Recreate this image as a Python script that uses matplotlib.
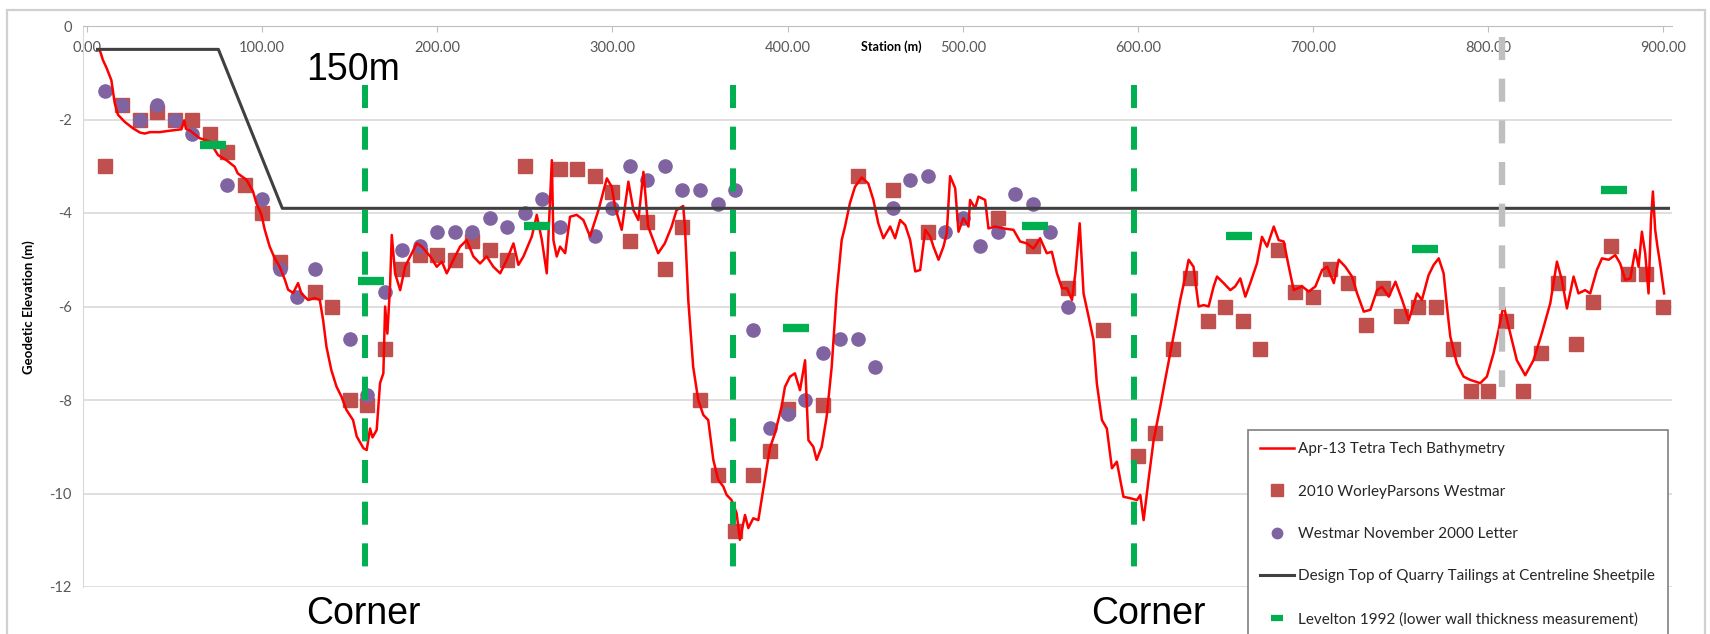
import numpy as np
import matplotlib
matplotlib.use("Agg")
import matplotlib.pyplot as plt
from matplotlib.lines import Line2D
from matplotlib.patches import Rectangle
from matplotlib.ticker import FormatStrFormatter, MultipleLocator

plt.rcParams['axes.unicode_minus'] = False
plt.rcParams['lines.scale_dashes'] = False
plt.rcParams['font.family'] = ['Lato', 'DejaVu Sans']

#------ Apr-13 Tetra Tech bathymetry (station m, elevation m) ------#
bathy_st = [7.4, 9.1, 11.2, 13.9, 15.8, 17.7, 21.5, 26.3, 30.3, 33, 36, 41.5, 47.2, 53.9, 55.5, 56.5,
            58.6, 64.3, 70, 74.8, 79.6, 84.3, 86, 91, 94.8, 96.7, 99.6, 101.5, 104.3, 107.2, 110, 113,
            114.8, 117.7, 120.5, 122.4, 126.2, 130, 132.9, 134.8, 136.7, 139.5, 142.4, 145.3, 148.1, 151.9,
            154, 157.8, 159.7, 161.6, 163, 165.4, 167.3, 169.2, 170.2, 171.5, 173, 174, 175.9, 178.8,
            181.6, 184.5, 188.3, 191.2, 196, 199.7, 202.6, 205.4, 209.2, 213, 216.8, 220.6, 224.4, 228.2,
            232, 235.9, 239.7, 243.5, 246.3, 249.2, 254, 256.8, 259.7, 262.5, 265.4, 266.3, 268.2, 270.1,
            273, 275.8, 279.6, 283.4, 287.2, 292, 296.8, 299.6,
            301.5, 305.3, 309.1, 312, 314.8, 317.7, 320.4, 323.3, 326.1, 329.9, 333.8, 336.6, 340.4, 341.4,
            343.3, 346.1, 349, 351.9, 354.7, 357.6, 360.4, 363.3, 365.2, 368, 370.9, 372.8, 375.7, 377.6,
            380.4, 383.3, 386.1, 389.9, 392.8, 396.6, 398.5, 401.4, 404.2, 407.1, 410, 410.9, 411.9, 414.7,
            416.6, 419.5, 422.3, 425.2, 428, 430.9, 432.8, 435.6, 438.5, 442.3, 446.1, 449, 451.8,
            454.7, 458.6, 461.4, 464.3, 467.2, 470, 472.9, 475.7, 478.6, 481.5, 483.3, 486.2, 489, 490.9,
            492.8, 495.7, 497.6, 500.4, 503.3, 504.2, 507.1, 509, 512.8, 514.7, 518.5, 523.3, 529, 532.8,
            536.6, 540.4, 544.2, 548, 550.9, 553.8, 556.7, 559.5, 562.4, 564.3, 566.8, 569, 571.9, 574.7,
            576.6, 579.5, 582.3, 585.2, 588, 591.8, 595.6, 599.5, 601.4, 603.3,
            606.1, 609, 612.8, 615.6, 618.5, 621.4, 624.2, 627.1, 629, 631.8, 634.7, 637.6, 640.4, 643.3,
            645.2, 649, 652.8, 655.6, 658.5, 661.4, 664.2, 668, 670.9, 673.8, 677.6, 680.4, 683.3, 686.2,
            689, 693.8, 697.6, 701.4, 705.2, 708.1, 711.9, 714.7, 718.5, 722.3, 725.2, 729, 732.8, 736.6,
            739.4, 743.3, 747.1, 750.9, 754.7,
            759.4, 762.2, 766, 768.9, 771.8, 774.6, 776.5, 778.4, 782.2, 786, 789.8, 795.5, 799.3, 803.1,
            806, 808.8, 811.7, 816.4, 821.2, 825.9, 830.7, 835.5, 839.3, 842.1, 845, 848.8, 851.6, 855.4,
            858.3, 862.1, 865, 868.8, 872.6, 875.4, 878.3, 881.2, 884, 885.9, 887.8, 889.7, 891.6, 893,
            894.1, 895.4, 896.7, 898.2, 900.5]
bathy_el = [-0.53, -0.73, -0.9, -1.16, -1.65, -1.9, -2.05, -2.19, -2.28, -2.3, -2.27, -2.27, -2.24, -2.21, -2.02, -2.2,
            -2.23, -2.4, -2.47, -2.76, -2.87, -3.01, -3.15, -3.29, -3.54, -3.79, -4.04, -4.36, -4.72, -4.97, -5.15, -5.43,
            -5.64, -5.71, -5.5, -5.72, -5.86, -5.82, -5.86, -6.29, -6.86, -7.36, -7.71, -7.93, -8.21, -8.43,
            -8.78, -9.03, -9.07, -8.61, -8.8, -8.64, -7.64, -7.43, -6.0, -6.58, -5.58, -4.47, -5.29, -5.65,
            -5.15, -4.93, -4.65, -4.72, -4.93, -5.15, -5.04, -5.29, -5.0, -4.72, -4.58, -4.93, -5.08, -4.93,
            -5.15, -5.29, -5.0, -4.65, -5.11, -4.93, -4.5, -4.04, -4.58, -5.29, -2.87, -4.58, -4.93, -4.72,
            -4.86, -4.08, -4.04, -4.15, -4.5, -3.94, -3.26, -3.44,
            -3.87, -4.36, -3.33, -3.94, -4.15, -3.12, -4.29, -4.58, -4.86, -4.65, -4.29, -3.94, -3.85, -4.29,
            -5.86, -7.29, -8.0, -8.32, -8.43, -9.28, -9.71, -9.85, -10.03, -10.14, -10.42, -10.99, -10.46, -10.74,
            -10.53, -10.57, -9.92, -9.03, -8.71, -8.14, -7.72, -7.5, -7.43, -7.79, -7.15, -8.0, -8.86, -9.0,
            -9.28, -9.0, -8.36, -7.29, -5.72, -4.58, -4.29, -3.79, -3.44, -3.24, -3.37, -3.72, -4.22,
            -4.54, -4.29, -4.54, -4.15, -4.26, -4.58, -5.25, -5.22, -4.36, -4.51, -4.72, -5.0, -4.72, -4.43,
            -3.21, -3.47, -4.4, -4.11, -4.29, -3.72, -3.9, -3.65, -3.72, -4.33, -4.29, -4.33, -4.36, -4.61,
            -4.65, -4.76, -4.54, -4.86, -4.83, -5.29, -5.61, -5.61, -5.86, -5.29, -4.22, -5.72, -6.22, -6.72,
            -7.65, -8.43, -8.61, -9.46, -9.32, -10.07, -10.1, -10.14, -10.03, -10.57,
            -9.71, -8.86, -8.14, -7.57, -7.0, -6.43, -5.86, -5.36, -5.0, -5.15, -6.0, -5.97, -6.0, -5.57,
            -5.36, -5.5, -5.65, -5.57, -5.4, -5.79, -5.5, -5.08, -4.51, -4.72, -4.29, -4.58, -4.61, -5.15,
            -5.65, -5.57, -5.68, -5.57, -5.22, -5.15, -5.5, -5.0, -5.15, -5.36, -5.72, -6.11, -6.07, -5.65,
            -5.58, -5.79, -5.47, -5.86, -6.29,
            -5.72, -5.86, -5.33, -5.11, -4.97, -5.29, -6.0, -6.64, -7.22, -7.5, -7.57, -7.64, -7.5, -7.0,
            -6.5, -5.97, -6.43, -7.15, -7.47, -7.15, -6.57, -5.93, -5.04, -5.43, -6.04, -5.36, -5.72, -5.65,
            -5.72, -5.22, -4.97, -5.0, -4.9, -5.08, -5.43, -5.4, -4.79, -5.15, -4.4, -4.86, -5.72, -4.15,
            -3.54, -4.36, -4.72, -5.08, -5.72]

#------ 2010 WorleyParsons Westmar ------#
worley_st = [10, 20, 30, 40, 50, 60, 70, 80, 90, 100, 110, 130, 140, 150, 160, 170, 180, 190, 200, 210,
             220, 230, 240, 250, 270, 280, 290, 300, 310, 320, 330, 340, 350, 360, 370, 380, 390, 400, 420,
             440, 460, 480, 520, 540, 560, 580, 600, 610, 620, 630, 640, 650, 660, 670, 680, 690, 700, 710,
             720, 730, 740, 750, 760, 770, 780, 790, 800, 810, 820, 830, 840, 850, 860, 870, 880, 890, 900]
worley_el = [-3.0, -1.7, -2.0, -1.85, -2.0, -2.0, -2.3, -2.7, -3.4, -4.0, -5.05, -5.7, -6.0, -8.0, -8.1, -6.9,
             -5.2, -4.9, -4.9, -5.0, -4.6, -4.8, -5.0, -3.0, -3.05, -3.05, -3.2, -3.55, -4.6, -4.2, -5.2, -4.3,
             -8.0, -9.6, -10.8, -9.6, -9.1, -8.2, -8.1, -3.2, -3.5, -4.4, -4.1, -4.7, -5.6, -6.5, -9.2, -8.7,
             -6.9, -5.4, -6.3, -6.0, -6.3, -6.9, -4.8, -5.7, -5.8, -5.2, -5.5, -6.4, -5.6, -6.2, -6.0, -6.0,
             -6.9, -7.8, -7.8, -6.3, -7.8, -7.0, -5.5, -6.8, -5.9, -4.7, -5.3, -5.3, -6.0]

#------ Westmar November 2000 Letter ------#
westmar_st = [10, 20, 30, 40, 50, 60, 80, 100, 110, 120, 130, 150, 160, 170, 180, 190, 200, 210, 220, 230,
              240, 250, 260, 270, 290, 300, 310, 320, 330, 340, 350, 360, 370, 380, 390, 400, 410, 420, 430,
              440, 450, 460, 470, 480, 490, 500, 510, 520, 530, 540, 550, 560]
westmar_el = [-1.4, -1.7, -2.0, -1.7, -2.0, -2.3, -3.4, -3.7, -5.2, -5.8, -5.2, -6.7, -7.9, -5.7, -4.8, -4.7,
              -4.4, -4.4, -4.4, -4.1, -4.3, -4.0, -3.7, -4.3, -4.5, -3.9, -3.0, -3.3, -3.0, -3.5, -3.5, -3.8,
              -3.5, -6.5, -8.6, -8.3, -8.0, -7.0, -6.7, -6.7, -7.3, -3.9, -3.3, -3.2, -4.4, -4.1, -4.7, -4.4,
              -3.6, -3.8, -4.4, -6.0]

#------ Design top of quarry tailings ------#
design_st = [6, 75, 111.5, 903]
design_el = [-0.5, -0.5, -3.9, -3.9]

#------ Levelton 1992 ------#
levelton_st = [72, 162, 257, 405, 541, 658, 764, 872]
levelton_el = [-2.55, -5.45, -4.27, -6.47, -4.28, -4.5, -4.78, -3.5]

# marker lines (station, top, bottom)
corner_st = [159, 369, 598]
corner_top, corner_bot = -1.26, -11.6
grey_st = 808
grey_top, grey_bot = -0.24, -7.72

RED_SQ = '#C0504D'
PURPLE = '#8064A2'
GREEN = '#00B050'

fig = plt.figure(figsize=(17.1, 6.34), dpi=100)
fig.patches.append(Rectangle((7/1710, -0.02), (1705-7)/1710, (629-5)/634 + 0.02,
                             transform=fig.transFigure, fill=False, edgecolor='#d0d0d0', lw=1.6))
ax = fig.add_axes([83/1710, 1-587/634, (1672-83)/1710, (587-26)/634])

ax.plot(worley_st, worley_el, ls='none', marker='s', ms=9.5, color=RED_SQ, zorder=3)
ax.plot(westmar_st, westmar_el, ls='none', marker='o', ms=9.5, color=PURPLE, zorder=4)
ax.plot(bathy_st, bathy_el, color='#FF0000', lw=1.8, zorder=5)
ax.plot(design_st, design_el, color='#404040', lw=2.2, zorder=6)
ax.plot(levelton_st, levelton_el, ls='none', marker='_', ms=19, mew=6, color=GREEN, zorder=7)

for s in corner_st:
    ax.plot([s, s], [corner_top, corner_bot], color=GREEN, lw=4.3, ls=(0, (16.6, 13.4)), zorder=8)
ax.plot([grey_st, grey_st], [grey_top, grey_bot], color='#BFBFBF', lw=4.6, ls=(0, (16.6, 13.4)), zorder=8)

ax.set_xlim(-2.3, 905)
ax.set_ylim(-12, 0)
ax.xaxis.set_major_locator(MultipleLocator(100))
ax.xaxis.set_major_formatter(FormatStrFormatter('%.2f'))
ax.yaxis.set_major_locator(MultipleLocator(2))
ax.grid(axis='y', color='#d9d9d9', lw=1.2)
ax.set_axisbelow(True)
for side in ['right', 'bottom']:
    ax.spines[side].set_visible(False)
ax.spines['top'].set_color('#bfbfbf')
ax.spines['left'].set_color('#d9d9d9')
ax.tick_params(axis='x', bottom=False, top=True, labelbottom=False, labeltop=True,
               direction='in', length=4, color='#bfbfbf', pad=-21, labelsize=10.5, labelcolor='#595959')
ax.tick_params(axis='y', length=0, pad=8, labelsize=10.5, labelcolor='#595959')

ax.set_xlabel('Station (m)', fontweight='bold', fontsize=9)
ax.xaxis.set_label_position('top')
ax.xaxis.set_label_coords(0.5085, 0.964)
ax.xaxis.label.set_va('center')
ax.set_ylabel('Geodetic Elevation (m)', fontweight='bold', fontsize=9.5)
ax.yaxis.set_label_coords(-0.0302, 0.499)

handles = [Line2D([], [], color='#FF0000', lw=1.8),
           Line2D([], [], ls='none', marker='s', ms=9, color=RED_SQ),
           Line2D([], [], ls='none', marker='o', ms=7.5, color=PURPLE),
           Line2D([], [], color='#404040', lw=2.2),
           Line2D([], [], ls='none', marker='_', ms=9, mew=4.5, color=GREEN)]
labels = ['Apr-13 Tetra Tech Bathymetry', '2010 WorleyParsons Westmar', 'Westmar November 2000 Letter',
          'Design Top of Quarry Tailings at Centreline Sheetpile', 'Levelton 1992 (lower wall thickness measurement)']
leg = ax.legend(handles, labels, loc='upper left', bbox_to_anchor=(1248/1710, 1-430/634),
                bbox_transform=fig.transFigure, fontsize=11, frameon=True, fancybox=False,
                edgecolor='#808080', framealpha=1, borderpad=0.8, labelspacing=1.86,
                handlelength=2.2, handletextpad=0.3, borderaxespad=0)
leg.get_frame().set_linewidth(1.2)
leg.set_zorder(10)
for t in leg.get_texts():
    t.set_color('#262626')

ann = dict(family=['Liberation Sans', 'DejaVu Sans'], fontsize=27, color='black', ha='left', va='baseline')
fig.text(306/1710, 1-80/634, '150m', **ann)
fig.text(306/1710, 1-624/634, 'Corner', **ann)
fig.text(1091/1710, 1-624/634, 'Corner', **ann)

fig.savefig('out.png', dpi=100)
